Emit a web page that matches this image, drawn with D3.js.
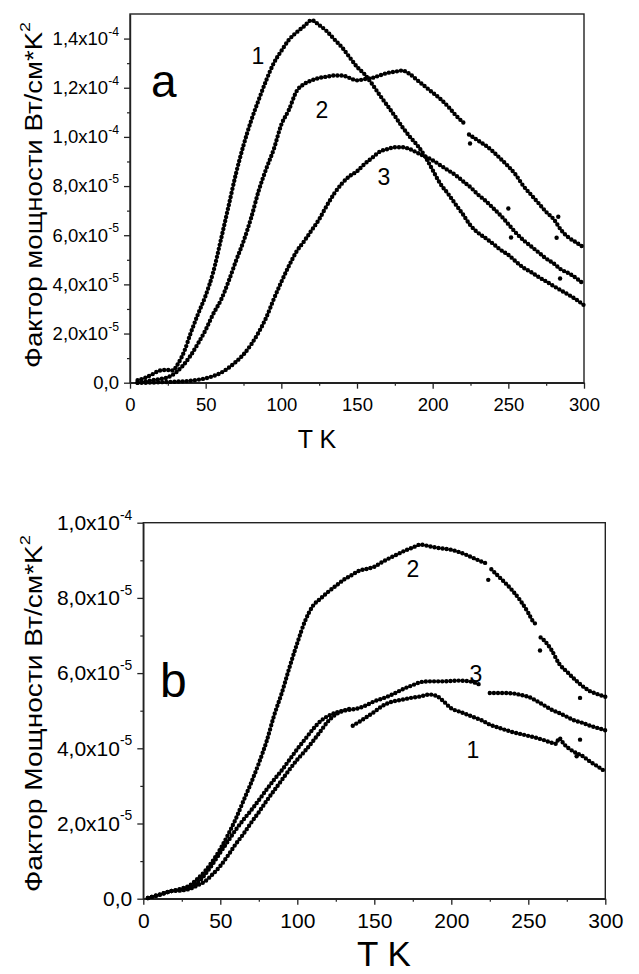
<!DOCTYPE html>
<html><head><meta charset="utf-8">
<script src="https://cdn.jsdelivr.net/npm/d3@7"></script>
<style>
body{margin:0;background:#fff}
svg{display:block}
text{font-family:"Liberation Sans",Arial,sans-serif;fill:#000}
</style>
</head><body>
<svg id="c" width="639" height="974"></svg>
<script>
// Values are in units of 1e-5 W/(cm*K^2); null marks a gap in the record.
// ---- panel a ----
const a1 = [[5,0.1],[10,0.2],[15,0.35],[20,0.5],[25,0.52],[28,0.5],[32,0.8],[36,1.3],[40,2.0],[45,2.8],[50,3.55],[55,4.5],[60,5.8],[65,7.15],[70,8.5],[75,9.66],[80,10.65],[85,11.5],[90,12.3],[95,13.0],[100,13.5],[105,13.95],[110,14.25],[115,14.5],[120,14.75],[125,14.55],[130,14.3],[135,13.97],[140,13.65],[145,13.25],[150,12.85],[155,12.55],[160,12.15],[165,11.7],[170,11.28],[175,10.85],[180,10.4],[185,10.0],[190,9.65],[195,9.2],[200,8.65],[205,8.1],[210,7.7],[215,7.27],[220,6.85],[225,6.4],[230,6.1],[235,5.88],[240,5.65],[245,5.4],[250,5.2],[255,4.93],[260,4.68],[265,4.5],[270,4.3],[275,4.12],[280,3.93],[285,3.75],[290,3.57],[295,3.38],[300,3.15]];
const a2 = [[5,0.0],[10,0.05],[15,0.1],[20,0.15],[25,0.22],[30,0.4],[35,0.7],[40,1.1],[45,1.6],[50,2.15],[55,2.8],[60,3.35],[65,4.1],[70,4.95],[75,5.75],[80,6.7],[85,7.8],[90,8.7],[95,9.5],[100,10.5],[105,11.1],[110,11.85],[115,12.15],[120,12.3],[125,12.4],[130,12.45],[135,12.5],[140,12.5],[145,12.4],[150,12.3],[155,12.35],[160,12.4],[165,12.5],[170,12.6],[175,12.65],[180,12.7],[185,12.55],[190,12.3],[195,12.05],[200,11.8],[205,11.55],[210,11.25],[215,10.9],[220,10.6],[221,10.55],[222,null],[224,10.1],[230,9.85],[235,9.65],[240,9.4],[245,9.1],[250,8.8],[255,8.45],[260,8.0],[265,7.65],[270,7.3],[275,6.95],[280,6.65],[285,6.2],[290,5.9],[295,5.7],[300,5.5]];
const a3 = [[5,0],[10,0],[20,0.02],[30,0.04],[40,0.08],[45,0.12],[50,0.18],[55,0.27],[60,0.4],[65,0.6],[70,0.85],[75,1.15],[80,1.55],[85,2.05],[90,2.65],[95,3.4],[100,4.1],[105,4.75],[110,5.33],[115,5.75],[120,6.2],[125,6.65],[130,7.2],[135,7.7],[140,8.1],[145,8.4],[150,8.6],[155,8.9],[160,9.15],[165,9.4],[170,9.5],[175,9.58],[180,9.58],[185,9.5],[190,9.35],[195,9.2],[200,9.05],[205,8.85],[210,8.65],[215,8.45],[220,8.2],[225,7.95],[230,7.65],[235,7.4],[240,7.1],[245,6.8],[250,6.45],[255,6.1],[260,5.8],[265,5.55],[270,5.3],[275,5.05],[280,4.85],[285,4.6],[290,4.45],[295,4.25],[300,4.0]];
const aOut = [[224.7,9.73],[250,7.09],[251.8,5.91],[283,6.75],[281.9,5.9],[284.2,4.24]];
// ---- panel b ----
const b1 = [[3,0.02],[10,0.1],[18,0.2],[25,0.22],[30,0.26],[35,0.35],[40,0.46],[45,0.65],[50,0.87],[55,1.15],[60,1.45],[65,1.72],[70,2.02],[75,2.3],[80,2.6],[85,2.88],[90,3.16],[95,3.44],[100,3.7],[105,3.93],[110,4.18],[115,4.45],[120,4.72],[125,4.9],[130,5.0],[134,5.05],[135,null],[136,4.6],[140,4.7],[145,4.83],[150,4.97],[155,5.12],[160,5.22],[165,5.27],[170,5.31],[175,5.35],[180,5.38],[186,5.43],[190,5.4],[195,5.25],[200,5.06],[205,4.98],[210,4.9],[215,4.82],[220,4.74],[225,4.63],[230,4.56],[235,4.49],[240,4.43],[245,4.38],[250,4.33],[255,4.28],[260,4.22],[265,4.15],[268,4.12],[270,4.27],[273,4.12],[275,4.04],[280,3.9],[285,3.8],[290,3.65],[295,3.52],[300,3.38]];
const b2 = [[3,0.02],[10,0.1],[18,0.2],[25,0.27],[30,0.35],[35,0.52],[40,0.73],[45,1.0],[50,1.32],[55,1.7],[60,2.12],[65,2.6],[70,3.08],[75,3.6],[80,4.18],[85,4.88],[90,5.48],[95,6.16],[100,6.8],[105,7.38],[110,7.78],[115,7.98],[120,8.16],[125,8.32],[130,8.48],[135,8.6],[140,8.72],[145,8.77],[150,8.83],[155,8.95],[160,9.06],[165,9.16],[170,9.26],[175,9.34],[180,9.42],[185,9.38],[190,9.34],[195,9.31],[200,9.28],[205,9.22],[210,9.14],[215,9.05],[220,8.96],[222,8.93],[224,null],[226,8.76],[230,8.6],[235,8.4],[240,8.18],[245,7.92],[250,7.6],[253,7.38],[255,7.3],[256.5,null],[258,6.95],[260,6.88],[265,6.62],[270,6.25],[275,6.04],[280,5.84],[285,5.66],[290,5.52],[295,5.44],[300,5.37]];
const b3 = [[3,0.02],[10,0.1],[18,0.2],[25,0.25],[30,0.3],[35,0.42],[40,0.64],[45,0.92],[50,1.23],[55,1.53],[60,1.83],[65,2.1],[70,2.35],[75,2.62],[80,2.9],[85,3.17],[90,3.42],[95,3.7],[100,3.98],[105,4.24],[110,4.5],[115,4.72],[120,4.86],[125,4.95],[130,5.0],[135,5.03],[140,5.07],[145,5.15],[150,5.25],[155,5.32],[160,5.4],[165,5.5],[170,5.6],[175,5.68],[180,5.76],[185,5.78],[190,5.78],[195,5.78],[200,5.79],[205,5.8],[210,5.79],[215,5.75],[220,5.66],[222,null],[225,5.47],[230,5.47],[235,5.47],[240,5.46],[245,5.42],[250,5.37],[255,5.27],[260,5.15],[265,5.03],[270,4.94],[275,4.84],[280,4.74],[285,4.68],[290,4.6],[295,4.54],[300,4.48]];
const bOut = [[224,8.48],[257.6,6.6],[283.6,5.34],[283.6,4.23],[281.4,3.79]];

// ---- ticks ----
const xTicks = [0,50,100,150,200,250,300];
const xMinor = [25,75,125,175,225,275];
const aYTicks = [0,2,4,6,8,10,12,14];
const aYLabels = [["0,0",""],["2,0x10","-5"],["4,0x10","-5"],["6,0x10","-5"],["8,0x10","-5"],["1,0x10","-4"],["1,2x10","-4"],["1,4x10","-4"]];
const aYMinor = [1,3,5,7,9,11,13];
const bYTicks = [0,2,4,6,8,10];
const bYLabels = [["0,0",""],["2,0x10","-5"],["4,0x10","-5"],["6,0x10","-5"],["8,0x10","-5"],["1,0x10","-4"]];
const bYMinor = [1,3,5,7,9];

const svg = d3.select("#c");

function panel(cfg){
  const x = d3.scaleLinear().domain([0,300]).range([cfg.left, cfg.right]);
  const y = d3.scaleLinear().domain([0,cfg.ymax]).range([cfg.bottom, cfg.top]);
  const g = svg.append("g");
  g.append("rect").attr("x",cfg.left).attr("y",cfg.top)
    .attr("width",cfg.right-cfg.left).attr("height",cfg.bottom-cfg.top)
    .attr("fill","none").attr("stroke","#222").attr("stroke-width",1.4);
  g.append("g").attr("transform",`translate(0,${cfg.bottom})`)
    .call(d3.axisBottom(x).tickValues(xMinor).tickSize(3).tickFormat(""))
    .call(s=>{s.select(".domain").remove(); s.selectAll("line").attr("stroke","#222").attr("stroke-width",1.2);});
  g.append("g").attr("transform",`translate(${cfg.left},0)`)
    .call(d3.axisLeft(y).tickValues(cfg.yMinor).tickSize(3).tickFormat(""))
    .call(s=>{s.select(".domain").remove(); s.selectAll("line").attr("stroke","#222").attr("stroke-width",1.2);});
  g.append("g").attr("transform",`translate(0,${cfg.bottom})`)
    .call(d3.axisBottom(x).tickValues(xTicks).tickSize(6).tickPadding(cfg.xPad).tickSizeOuter(0))
    .call(s=>{s.select(".domain").attr("stroke","#222").attr("stroke-width",1.4);
      s.selectAll("line").attr("stroke","#222").attr("stroke-width",1.3);
      s.selectAll("text").attr("font-size",cfg.xFs).attr("fill","#000")
        .style("font-family","'Liberation Sans',Arial,sans-serif");});
  g.append("g").attr("transform",`translate(${cfg.left},0)`)
    .call(d3.axisLeft(y).tickValues(cfg.yTicks).tickSize(6).tickPadding(5).tickSizeOuter(0).tickFormat(""))
    .call(s=>{s.select(".domain").attr("stroke","#222").attr("stroke-width",1.4);
      s.selectAll("line").attr("stroke","#222").attr("stroke-width",1.3);
      s.selectAll(".tick text").each(function(d,i){
        const t = d3.select(this).text(null).attr("font-size",cfg.yFs).attr("fill","#000")
          .style("font-family","'Liberation Sans',Arial,sans-serif");
        const lab = cfg.yLabels[i];
        t.append("tspan").text(lab[0]);
        if(lab[1]) t.append("tspan").attr("font-size",cfg.yFs*0.66).attr("dy","-0.75em").text(lab[1]);
      });});
  const line = d3.line().defined(d=>d[1]!==null).x(d=>x(d[0])).y(d=>y(d[1])).curve(d3.curveMonotoneX);
  cfg.series.forEach(s=>{
    g.append("path").attr("d",line(s)).attr("fill","none").attr("stroke","#000")
      .attr("stroke-width",4.4).attr("stroke-linecap","round").attr("stroke-dasharray","0 4.1");
  });
  g.selectAll(".out").data(cfg.out).join("circle").attr("cx",d=>x(d[0])).attr("cy",d=>y(d[1])).attr("r",2.2).attr("fill","#000");
  cfg.labels.forEach(l=>{
    g.append("text").attr("x",l[1]).attr("y",l[2]).attr("text-anchor","middle").attr("font-size",cfg.labFs).text(l[0]);
  });
  g.append("text").attr("x",cfg.letter[1]).attr("y",cfg.letter[2]).attr("font-size",cfg.letter[3]).text(cfg.letter[0]);
  g.append("text").attr("x",cfg.xt[0]).attr("y",cfg.xt[1]).attr("text-anchor","middle").attr("font-size",cfg.xt[2]).text("T K");
  const yt = g.append("text").attr("transform",`translate(${cfg.yt[0]},${cfg.yt[1]}) rotate(-90)`)
    .attr("text-anchor","middle").attr("font-size",cfg.yt[2])
    .attr("textLength",cfg.yt[3]).attr("lengthAdjust","spacingAndGlyphs");
  yt.append("tspan").text(cfg.ytitle);
  yt.append("tspan").attr("font-size",cfg.yt[2]*0.65).attr("dy","-0.8em").text("2");
}

panel({left:130,right:584,top:14,bottom:382.7,ymax:15,
  yTicks:aYTicks,yLabels:aYLabels,yMinor:aYMinor,xFs:18.5,yFs:18.5,xPad:9,
  series:[a1,a2,a3],out:aOut,labFs:23,
  labels:[["1",258,63.5],["2",322,118.3],["3",384,185]],
  letter:["a",151,96.5,46],xt:[317,448,25],yt:[42,195,23,346],
  ytitle:"Фактор мощности Вт/см*K"});

panel({left:143.3,right:605.3,top:522.7,bottom:898.7,ymax:10,
  yTicks:bYTicks,yLabels:bYLabels,yMinor:bYMinor,xFs:21,yFs:21,xPad:8.5,
  series:[b1,b2,b3],out:bOut,labFs:23,
  labels:[["2",413,577],["3",476,682],["1",473,758]],
  letter:["b",160,696.5,48],xt:[384,966,35],yt:[42,713.5,23,357],
  ytitle:"Фактор Мощности Вт/см*K"});
</script>
</body></html>
